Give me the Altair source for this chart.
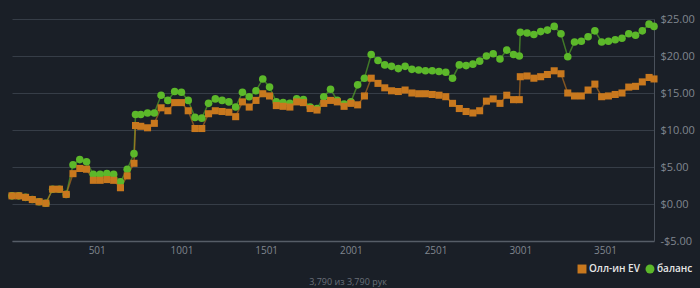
import altair as alt
import pandas as pd

hands = [1, 41, 81, 121, 161, 201, 241, 281, 321, 361, 401, 441, 481, 521, 561, 601,
         641, 681, 721, 730, 761, 801, 841, 881, 921, 961, 1001, 1041, 1081, 1121, 1161,
         1201, 1241, 1281, 1321, 1361, 1401, 1441, 1481, 1521, 1561, 1601, 1641, 1681,
         1721, 1761, 1801, 1841, 1881, 1921, 1961, 2001, 2041, 2081, 2121, 2161, 2201,
         2241, 2281, 2321, 2361, 2401, 2441, 2481, 2521, 2561, 2601, 2641, 2681, 2721,
         2761, 2801, 2841, 2881, 2921, 2961, 2995, 3001, 3041, 3081, 3121, 3161, 3201,
         3241, 3281, 3321, 3361, 3401, 3441, 3481, 3521, 3561, 3601, 3641, 3681, 3721,
         3761, 3790]

allin_ev = [1.1, 1.1, 0.9, 0.6, 0.3, 0.1, 2.0, 2.0, 1.3, 4.1, 4.8, 4.7, 3.2, 3.2, 3.3, 3.2,
            2.2, 3.8, 5.5, 10.6, 10.5, 10.3, 10.9, 13.0, 12.6, 13.7, 13.7, 12.6, 10.2, 10.2,
            12.2, 12.6, 12.5, 12.4, 11.8, 13.8, 13.1, 14.0, 14.9, 14.6, 13.3, 13.2, 13.1,
            13.8, 13.7, 12.9, 12.7, 13.6, 14.0, 13.8, 13.2, 13.6, 13.4, 14.6, 17.0, 16.3,
            15.7, 15.3, 15.2, 15.4, 15.0, 14.9, 14.9, 14.8, 14.7, 14.5, 13.6, 12.9, 12.5,
            12.3, 12.6, 13.9, 14.2, 13.6, 14.7, 14.1, 14.1, 17.2, 17.3, 17.0, 17.2, 17.5,
            18.0, 17.6, 15.0, 14.6, 14.6, 15.4, 16.2, 14.5, 14.6, 14.8, 15.0, 15.8, 15.9,
            16.5, 17.1, 16.9]

balance = [1.1, 1.1, 0.9, 0.6, 0.3, 0.1, 2.0, 2.0, 1.3, 5.3, 6.0, 5.7, 4.0, 4.0, 4.1, 4.0,
           3.0, 4.7, 6.8, 12.1, 12.1, 12.3, 12.3, 14.7, 14.0, 15.2, 15.1, 14.0, 11.7, 11.6,
           13.6, 14.2, 14.0, 13.8, 13.1, 15.1, 14.5, 15.3, 16.9, 15.8, 13.8, 13.7, 13.6,
           14.2, 14.1, 13.1, 12.9, 14.5, 15.5, 14.0, 13.5, 13.8, 16.1, 17.0, 20.2, 19.4,
           18.8, 18.6, 18.3, 18.6, 18.2, 18.1, 18.0, 18.0, 17.9, 17.8, 17.0, 18.8, 18.7,
           18.9, 19.3, 20.0, 20.3, 19.6, 20.8, 20.2, 20.0, 23.2, 23.1, 22.9, 23.3, 23.5,
           24.0, 23.0, 19.9, 21.9, 22.0, 22.6, 23.4, 21.9, 22.0, 22.2, 22.4, 23.0, 22.8,
           23.4, 24.3, 24.0]

series_names = ["Олл-ин EV", "баланс"]
series_colors = ["#c8781e", "#5cb82a"]
series_shapes = ["square", "circle"]
x_ticks = [501, 1001, 1501, 2001, 2501, 3001, 3501]
y_ticks = [-5, 0, 5, 10, 15, 20, 25]
footer = ["3,790 из 3,790 рук"]

df = pd.concat([
    pd.DataFrame({"hand": hands, "value": balance, "series": series_names[1]}),
    pd.DataFrame({"hand": hands, "value": allin_ev, "series": series_names[0]}),
], ignore_index=True)

FONT = "Open Sans"

x_enc = alt.X("hand:Q", scale=alt.Scale(domain=[1, 3790], nice=False, zero=False),
              axis=alt.Axis(values=x_ticks, format="d", grid=False, ticks=False, labelPadding=4,
                            labelFontSize=10, labelColor="#80868f", domainColor="#565d67",
                            domainWidth=1.5, title=None, labelFont=FONT))
y_enc = alt.Y("value:Q", scale=alt.Scale(domain=[-5, 25], nice=False),
              axis=alt.Axis(orient="right", values=y_ticks, ticks=False, labelPadding=6,
                            labelFontSize=11, labelColor="#80868f", domainColor="#4a515b",
                            gridColor="#363d47", gridWidth=1, title=None, labelFont=FONT,
                            labelExpr="datum.value < 0 ? '-$' + format(-datum.value, '.2f') : '$' + format(datum.value, '.2f')"))

legend = alt.Legend(orient="none", legendX=565, legendY=245, direction="horizontal", title=None,
                    labelColor="#e6e6e6", labelFontSize=10, labelFontWeight=600,
                    labelFont=FONT, symbolSize=80, symbolStrokeWidth=0,
                    columnPadding=5, labelOffset=2, symbolOpacity=1)
color_enc = alt.Color("series:N", scale=alt.Scale(domain=series_names, range=series_colors),
                      legend=legend)
shape_enc = alt.Shape("series:N", scale=alt.Scale(domain=series_names, range=series_shapes),
                      legend=legend)

base = alt.Chart(df)

def line_layer(name):
    return base.transform_filter(alt.datum.series == name).mark_line(
        strokeWidth=1.5, opacity=0.6).encode(x=x_enc, y=y_enc, color=color_enc)

def point_layer(name, size):
    return base.transform_filter(alt.datum.series == name).mark_point(
        filled=True, opacity=1, size=size).encode(x=x_enc, y=y_enc, color=color_enc,
                                                  shape=shape_enc)

footer_text = alt.Chart(pd.DataFrame({"t": footer})).mark_text(
    fontSize=9, color="#6a7079", font=FONT, align="center", baseline="middle"
).encode(text="t:N", x=alt.value(336), y=alt.value(263))

chart = alt.layer(
    line_layer(series_names[1]),
    line_layer(series_names[0]),
    point_layer(series_names[1], 58),
    point_layer(series_names[0], 50),
    footer_text,
).properties(
    width=642, height=222,
    autosize=alt.AutoSizeParams(type="none"),
    padding={"left": 12, "top": 19, "right": 46, "bottom": 47},
    background="#1a1f27",
).configure_view(stroke=None)

chart.save("out.html", embed_options={"renderer": "svg", "actions": False})
